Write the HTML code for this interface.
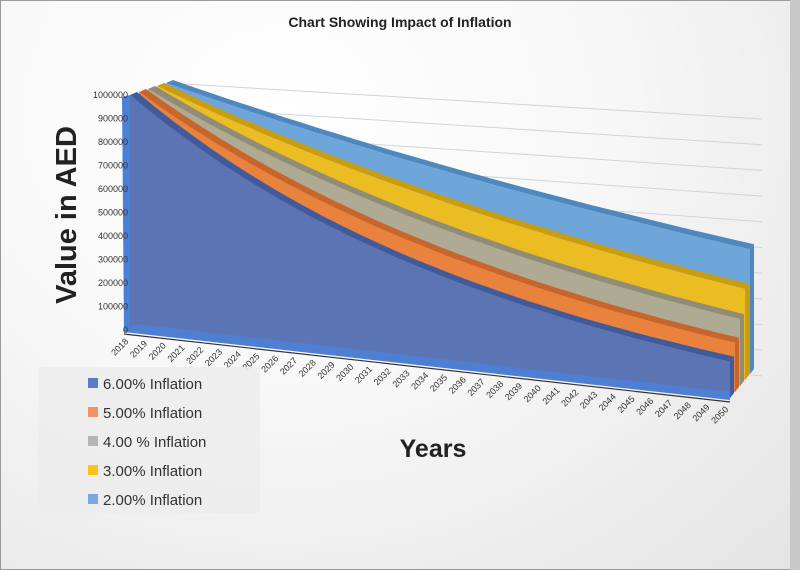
<!DOCTYPE html>
<html><head><meta charset="utf-8"><style>
html,body{margin:0;padding:0;}
body{width:800px;height:570px;overflow:hidden;font-family:"Liberation Sans",sans-serif;}
#wrap{position:absolute;left:0;top:0;width:798px;height:568px;border:1px solid #9a9a9a;background:radial-gradient(ellipse at 35% 20%,#ffffff 0%,#f7f7f7 45%,#e4e4e4 100%);}
#rightbar{position:absolute;right:0;top:0;width:10px;height:570px;background:#c8c8c8;}
</style></head><body>
<div id="wrap"></div>
<div id="rightbar"></div>
<svg id="chart" width="800" height="570" style="position:absolute;left:0;top:0">
<text x="400" y="27" text-anchor="middle" font-size="14" font-weight="bold" fill="#222">Chart Showing Impact of Inflation</text>
<text transform="translate(76,215) rotate(-90)" text-anchor="middle" font-size="29" font-weight="bold" fill="#222">Value in AED</text>
<text x="433" y="457" text-anchor="middle" font-size="25" font-weight="bold" fill="#222">Years</text>
<g id="grid"></g><g id="series"></g><g id="yticks"></g><g id="xticks"></g>
<g>
<rect x="38" y="367" width="222" height="146" fill="#ececec" opacity="0.85"/>
</g><g id="legend"></g>
</svg>
<script>
const years=[];for(let y=2018;y<=2050;y++)years.push(y);
const seriesNames=["6.00% Inflation","5.00% Inflation","4.00 % Inflation","3.00% Inflation","2.00% Inflation"];
const s6=[1000,943,890,840,792,747,705,665,627,592,558,527,497,469,442,417,394,371,350,331,312,294,278,262,247,233,220,207,196,185,174,164,155];
const s5=[1000,952,907,864,823,784,746,711,677,645,614,585,557,530,505,481,458,436,416,396,377,359,342,326,310,295,281,268,255,243,231,220,210];
const s4=[1000,962,925,889,855,822,790,760,731,703,676,650,625,601,577,555,534,513,494,475,456,439,422,406,390,375,361,347,333,321,308,296,285];
const s3=[1000,971,943,915,888,863,837,813,789,766,744,722,701,681,661,642,623,605,587,570,554,538,522,507,492,478,464,450,437,424,412,400,388];
const s2=[1000,980,961,942,924,906,888,871,853,837,820,804,788,773,758,743,728,714,700,686,673,660,647,634,622,610,598,586,574,563,552,541,531];
const yTicks=[0,100000,200000,300000,400000,500000,600000,700000,800000,900000,1000000];
const seriesVals=[s6,s5,s4,s3,s2];
const faceColors=["#5b74b3","#e8823c","#aeaa93","#ebbd22","#6ea6da"];
const edgeColors=["#3f5b9e","#c8652a","#8f8c78","#c99d12","#4f88bf"];
const legendColors=["#5b7bc8","#ee9562","#b5b5b5","#fcc419","#7aaadc"];
const NS="http://www.w3.org/2000/svg";
const N=years.length-1;
function baseX(s,i){const t=i/N;return (130+9*s)*(1-t)+(730+5*s)*t;}
function baseY(s,i){const t=i/N;return (330-3*s)*(1-t)+(398-6*s)*t;}
function valY(s,i,v){return baseY(s,i)-v*0.235;}
function mk(tag,attrs,parent){const e=document.createElementNS(NS,tag);for(const k in attrs)e.setAttribute(k,attrs[k]);parent.appendChild(e);return e;}
const grid=document.getElementById('grid');
yTicks.forEach((v,k)=>{
  const f=v/1000000;
  const l=mk('line',{x1:168,y1:320-f*237,x2:762,y2:376-f*257,stroke:'#d4d4d4','stroke-width':1},grid);
  
  
});
const sg=document.getElementById('series');
for(let s=4;s>=0;s--){
  const vals=seriesVals[s];
  const g=mk('g',{},sg);
  
  
  const dxl=7,dyl=-3,dxr=4,dyr=-5;
  let top=[],back=[];
  for(let i=0;i<=N;i++){const t=i/N;const dx=dxl*(1-t)+dxr*t,dy=dyl*(1-t)+dyr*t;
    top.push(baseX(s,i)+','+valY(s,i,vals[i]));back.unshift((baseX(s,i)+dx)+','+(valY(s,i,vals[i])+dy));}
  const strip=mk('polygon',{points:top.concat(back).join(' '),fill:edgeColors[s]},g);
  
  
  const xr=baseX(s,N),yb=baseY(s,N),yt=valY(s,N,vals[N]);
  const side=mk('polygon',{points:`${xr},${yt} ${xr+dxr},${yt+dyr} ${xr+dxr},${yb+dyr} ${xr},${yb}`,fill:edgeColors[s]},g);
  
  
  let pts=[];
  for(let i=0;i<=N;i++)pts.push(baseX(s,i)+','+valY(s,i,vals[i]));
  for(let i=N;i>=0;i--)pts.push(baseX(s,i)+','+baseY(s,i));
  const face=mk('polygon',{points:pts.join(' '),fill:faceColors[s]},g);
  
  
}
const fe=mk('polygon',{points:`${baseX(0,0)-8},${valY(0,0,s6[0])+2} ${baseX(0,0)},${valY(0,0,s6[0])} ${baseX(0,0)},${baseY(0,0)} ${baseX(0,0)-6},${baseY(0,0)+2}`,fill:'#4a80d8'},sg);


const fl=mk('polygon',{points:`${baseX(0,0)-6},${baseY(0,0)+2} ${baseX(0,N)},${baseY(0,N)+2} ${baseX(0,N)},${baseY(0,N)-6} ${baseX(0,0)+6},${baseY(0,0)-6}`,fill:'#4f7fd2'},sg);


const ax=mk('line',{x1:baseX(0,0)-6,y1:baseY(0,0)+4,x2:baseX(0,N),y2:baseY(0,N)+4,stroke:'#333','stroke-width':1.2},sg);


const yt=document.getElementById('yticks');
yTicks.forEach(v=>{
  const t=mk('text',{x:128,y:330-v/1000*0.235+3,'text-anchor':'end','font-size':9,fill:'#333'},yt);
  t.textContent=v;
  
  
});
const xt=document.getElementById('xticks');
years.forEach((y,i)=>{
  const x=baseX(0,i)-1,yy=baseY(0,i)+12;
  const t=mk('text',{x:x,y:yy,'text-anchor':'end','font-size':9,fill:'#333',transform:`rotate(-45 ${x} ${yy})`},xt);
  t.textContent=y;
  
  
});
const lg=document.getElementById('legend');
seriesNames.forEach((n,k)=>{
  const cy=383+k*29;
  const r=mk('rect',{x:88,y:cy-5,width:10,height:10,fill:legendColors[k]},lg);
  
  
  const t=mk('text',{x:103,y:cy+6,'font-size':15,fill:'#333'},lg);
  t.textContent=n;
  
  
});
</script>
</body></html>
